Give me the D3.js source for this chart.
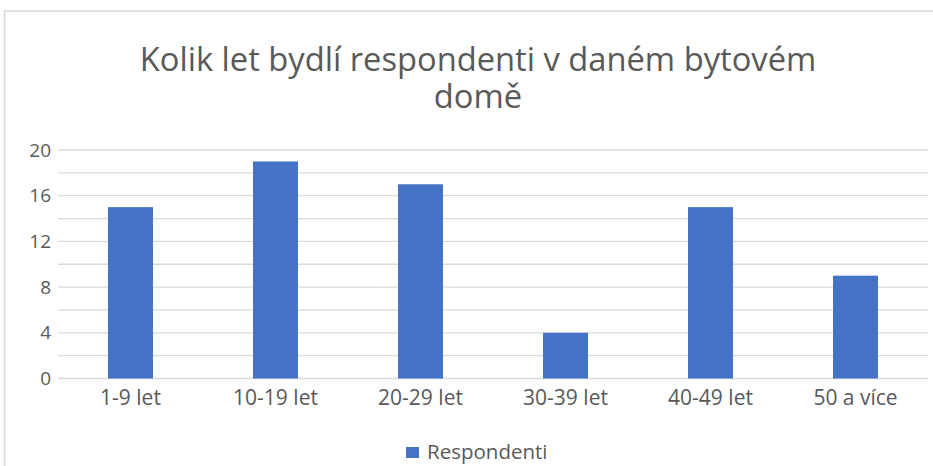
<!DOCTYPE html>
<html><head><meta charset="utf-8">
<script src="https://cdn.jsdelivr.net/npm/d3@7"></script>
<style>body{margin:0;background:#fff}svg{display:block}text{font-family:"Open Sans",Lato,sans-serif;fill:#595959}</style>
</head><body><svg width="933" height="466"></svg>
<script>
const categories = ["1-9 let","10-19 let","20-29 let","30-39 let","40-49 let","50 a více"];
const values = [15,19,17,4,15,9];
const seriesName = "Respondenti";
const yTicks = [0,4,8,12,16,20];
const gridValues = [0,2,4,6,8,10,12,14,16,18,20];
const titleLines = ["Kolik let bydlí respondenti v daném bytovém","domě"];

(function(){
const svg = d3.select("svg");
const FONT = '"Open Sans",Lato,sans-serif';
svg.append("rect").attr("x",4.5).attr("y",11).attr("width",940).attr("height",470)
  .attr("fill","none").attr("stroke","#d9d9d9").attr("stroke-width",1.5);

const pl=58, pr=928, pt=150, pb=378.5;
const x = d3.scaleBand().domain(categories).range([pl,pr]).paddingInner(0.69).paddingOuter(0.345);
const y = d3.scaleLinear().domain([0,20]).range([pb,pt]);

svg.append("g").selectAll("line").data(gridValues).join("line")
  .attr("x1",pl).attr("x2",pr).attr("y1",d=>y(d)).attr("y2",d=>y(d))
  .attr("stroke","#d9d9d9").attr("stroke-width",1.3);

svg.append("g").selectAll("rect").data(values).join("rect")
  .attr("x",(d,i)=>x(categories[i])).attr("width",x.bandwidth())
  .attr("y",d=>y(d)).attr("height",d=>y(0)-y(d)).attr("fill","#4472C4");

const yAxis = svg.append("g").attr("transform",`translate(${pl},0)`)
  .call(d3.axisLeft(y).tickValues(yTicks).tickSize(0).tickPadding(7));
yAxis.select(".domain").remove();
yAxis.selectAll("text").attr("font-size",19).style("font-family",FONT).attr("fill","#595959");

const xAxis = svg.append("g").attr("transform",`translate(0,${pb})`)
  .call(d3.axisBottom(x).tickSize(0).tickPadding(0));
xAxis.select(".domain").remove();
xAxis.selectAll("text").attr("font-size",21).style("font-family",FONT).attr("fill","#595959")
  .attr("dy",null).attr("y",26);

svg.append("g").selectAll("text").data(titleLines).join("text")
  .attr("x",478).attr("y",(d,i)=>71+i*37).attr("text-anchor","middle")
  .attr("font-size",32.7).text(d=>d);

svg.append("rect").attr("x",406).attr("y",447).attr("width",13).attr("height",11).attr("fill","#4472C4");
svg.append("text").attr("x",427).attr("y",459).attr("font-size",20.5).text(seriesName);
})();
</script></body></html>
